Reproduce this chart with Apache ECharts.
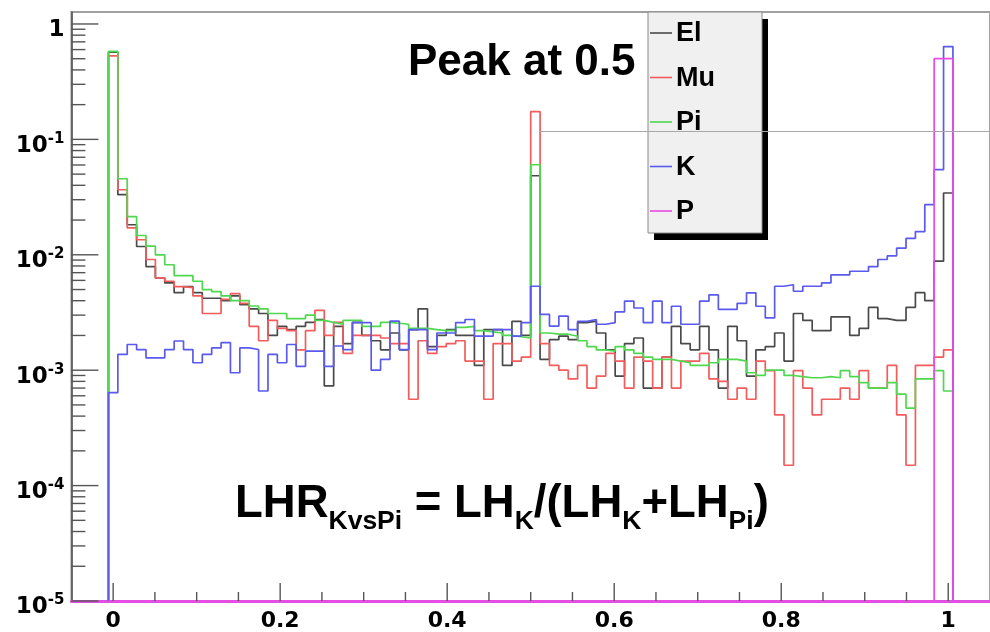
<!DOCTYPE html>
<html><head><meta charset="utf-8">
<script src="https://cdn.jsdelivr.net/npm/echarts@6/dist/echarts.min.js"></script>
<style>html,body{margin:0;padding:0;background:#fff}#c{width:990px;height:632px}</style>
</head><body><div id="c"></div>
<script>
// ---------- data ----------
const seriesNames = ['El', 'Mu', 'Pi', 'K', 'P'];
const seriesColors = ['#4a4a4a', '#f25c5c', '#4fd84f', '#5a5aee', '#e64ce6'];
// histogram: 90 bins centred on k/89, k = 0..89
const binCount = 90;
const binLow = -0.5 / 89;
const binWidth = 1 / 89;

const El = [0.57,0.0332,0.0182,0.0118,0.0079,0.0063,0.0057,0.0047,0.0053,0.0047,
0.0042,0.0042,0.0040,0.0044,0.0037,0.0034,0.0031,0.0020,0.0024,0.00225,
0.0024,0.0026,0.00275,0.00073,0.0024,0.0017,0.0026,0.0020,0.0018,0.0015,
0.0021,0.0015,0.00225,0.0034,0.0016,0.0020,0.00225,0.0020,0.0020,0.0011,
0.00225,0.00225,0.0011,0.00265,0.0020,0.0484,0.00124,0.00184,0.00197,0.00184,
0.00258,0.00266,0.0021,0.0015,0.00089,0.0017,0.0019,0.0007,0.0007,0.0013,
0.0024,0.0017,0.0015,0.0024,0.0015,0.0007,0.0024,0.0018,0.00089,0.0015,
0.0016,0.0021,0.0012,0.0031,0.0027,0.0022,0.0022,0.0029,0.0029,0.0020,
0.0023,0.0035,0.0028,0.0027,0.0027,0.0035,0.0047,0.0040,0.0088,0.0343];

const Mu = [0.53,0.0366,0.0171,0.0135,0.0091,0.0063,0.0059,0.0053,0.0052,0.0044,
0.0031,0.0031,0.0041,0.0046,0.0038,0.0024,0.0018,0.0027,0.0023,0.0022,
0.0015,0.0022,0.0033,0.0020,0.0026,0.0014,0.0020,0.0020,0.0020,0.0019,
0.0017,0.0017,0.00056,0.0018,0.0014,0.0016,0.0017,0.0018,0.0012,0.0012,
0.00056,0.0017,0.0017,0.0012,0.0013,0.174,0.0017,0.0011,0.0010,0.00084,
0.0011,0.0007,0.00089,0.0014,0.0012,0.0007,0.0013,0.0012,0.0007,0.0013,
0.0007,0.0012,0.0012,0.0014,0.00084,0.0008,0.00056,0.0007,0.00056,0.0012,
0.00099,0.00041,0.00015,0.00099,0.0007,0.00041,0.00056,0.00056,0.0007,0.00056,
0.00099,0.0007,0.0007,0.0011,0.00041,0.00015,0.0011,0.0011,0.0013,0.0015];

const Pi = [0.58,0.0456,0.0214,0.0147,0.0119,0.0100,0.0082,0.0066,0.0066,0.0059,
0.0050,0.0048,0.0044,0.0040,0.0040,0.0036,0.0034,0.0031,0.0031,0.0028,
0.0028,0.0030,0.0027,0.0026,0.0025,0.0027,0.0027,0.0024,0.0024,0.0026,
0.00255,0.0025,0.0023,0.0023,0.00225,0.0022,0.0022,0.00235,0.0024,0.0022,
0.00215,0.0021,0.0020,0.00195,0.0019,0.0603,0.0021,0.00205,0.00205,0.00197,
0.0018,0.0016,0.0015,0.00146,0.0016,0.0015,0.0014,0.0013,0.00124,0.00124,
0.0012,0.00116,0.0011,0.0011,0.00116,0.00124,0.00124,0.0012,0.00095,0.0009,
0.0010,0.0010,0.0009,0.00088,0.00086,0.00086,0.00088,0.00086,0.00099,0.00088,
0.00078,0.0007,0.0007,0.00078,0.00062,0.00047,0.00084,0.00084,0.00099,0.00066];

const K = [0.00064,0.00137,0.00167,0.00151,0.00128,0.00128,0.00151,0.00179,0.00151,0.00116,
0.00137,0.00156,0.00173,0.00095,0.00156,0.00151,0.00066,0.00137,0.00116,0.00167,
0.00108,0.00146,0.00146,0.00108,0.00162,0.00151,0.00258,0.00258,0.0010,0.00124,
0.00266,0.00151,0.00225,0.00225,0.00151,0.0021,0.0021,0.00258,0.00275,0.00197,
0.00197,0.00225,0.00225,0.00197,0.00258,0.00534,0.00304,0.00241,0.00294,0.00225,
0.00265,0.00275,0.0025,0.00258,0.0032,0.00396,0.00346,0.00258,0.00396,0.00258,
0.00358,0.0025,0.0025,0.00396,0.0045,0.00336,0.00336,0.0038,0.00468,0.00358,
0.00284,0.00534,0.0055,0.00483,0.00534,0.00534,0.0057,0.0067,0.0067,0.0072,
0.0072,0.0079,0.0091,0.0098,0.0114,0.0139,0.0159,0.0272,0.0546,0.637];

const P = [0,0,0,0,0,0,0,0,0,0, 0,0,0,0,0,0,0,0,0,0, 0,0,0,0,0,0,0,0,0,0,
0,0,0,0,0,0,0,0,0,0, 0,0,0,0,0,0,0,0,0,0, 0,0,0,0,0,0,0,0,0,0,
0,0,0,0,0,0,0,0,0,0, 0,0,0,0,0,0,0,0,0,0, 0,0,0,0,0,0,0,0,0.5,0.5];

const xTickLabels = [0, 0.2, 0.4, 0.6, 0.8, 1];
const xMinorTicks = [0.05,0.1,0.15,0.25,0.3,0.35,0.45,0.5,0.55,0.65,0.7,0.75,0.85,0.9,0.95];
const yMajorTicks = [1e-5, 1e-4, 1e-3, 1e-2, 1e-1, 1];
const yMinorTicks = [2e-5,3e-5,4e-5,5e-5,6e-5,7e-5,8e-5,9e-5,
  2e-4,3e-4,4e-4,5e-4,6e-4,7e-4,8e-4,9e-4,
  2e-3,3e-3,4e-3,5e-3,6e-3,7e-3,8e-3,9e-3,
  2e-2,3e-2,4e-2,5e-2,6e-2,7e-2,8e-2,9e-2,
  2e-1,3e-1,4e-1,5e-1,6e-1,7e-1,8e-1,9e-1];
const peakNote = 'Peak at 0.5';
// formula pieces: [text, isSubscript]
const formulaParts = [['LHR', 0], ['KvsPi', 1], [' = LH', 0], ['K', 1], ['/(LH', 0], ['K', 1], ['+LH', 0], ['Pi', 1], [')', 0]];
const refLineY = 0.117, refLineX0 = 0.5112;

const X_MIN = -0.05, X_MAX = 1.05, Y_MIN = 1e-5, Y_MAX = 1.27;

// ---------- build ----------
const allData = [El, Mu, Pi, K, P];
function histPoints(vals) {
  const pts = [[binLow, Y_MIN]];
  for (let k = 0; k < binCount; k++) {
    pts.push([binLow + k * binWidth, Math.max(vals[k], Y_MIN)]);
  }
  pts.push([binLow + binCount * binWidth, Y_MIN]);
  return pts;
}

const histSeries = seriesNames.map((n, i) => ({
  name: n, type: 'line', step: 'end', data: histPoints(allData[i]),
  showSymbol: false, symbol: 'none', clip: false, silent: true,
  lineStyle: { color: seriesColors[i], width: 1.7 }, z: 3 + i
}));

function tickRender(dir) {
  return function (params, api) {
    const p = api.coord([api.value(0), api.value(1)]);
    const len = api.value(2);
    const shape = dir === 'y'
      ? { x1: p[0], y1: p[1], x2: p[0] + len, y2: p[1] }
      : { x1: p[0], y1: p[1], x2: p[0], y2: p[1] - len };
    return { type: 'line', shape, style: { stroke: '#555', lineWidth: 1.4 } };
  };
}
const yTickData = yMajorTicks.map(v => [X_MIN, v, 27]).concat(yMinorTicks.map(v => [X_MIN, v, 14]));
const xTickData = xTickLabels.map(v => [v, Y_MIN, 18]).concat(xMinorTicks.map(v => [v, Y_MIN, 9]));

const F = "'Liberation Sans', Arial, Helvetica, sans-serif";
const FL = "'DejaVu Sans', sans-serif";

const legendTop = 12, legendLeft = 648, legendW = 114, legendH = 221;
const legendGraphics = [
  { type: 'rect', z: 50, shape: { x: legendLeft + 6, y: legendTop + 7, width: legendW, height: legendH }, style: { fill: '#000' } },
  { type: 'rect', z: 51, shape: { x: legendLeft, y: legendTop, width: legendW, height: legendH }, style: { fill: '#f0f0f0', stroke: '#8a8a8a', lineWidth: 1 } }
];
seriesNames.forEach((n, i) => {
  const cy = 33 + i * 44.5;
  legendGraphics.push({ type: 'line', z: 52, shape: { x1: 650, y1: cy, x2: 672, y2: cy }, style: { stroke: seriesColors[i], lineWidth: 1.6 } });
  legendGraphics.push({ type: 'text', z: 52, x: 676, y: cy + 1, style: { text: n, fill: '#000', font: "bold 27px " + F, verticalAlign: 'middle', align: 'left' } });
});

// formula laid out piece by piece (main baseline ~520, subscript baseline ~531)
const measureCtx = document.createElement('canvas').getContext('2d');
const mainFont = 'bold 45.5px ' + F, subFont = 'bold 26.5px ' + F;
const formulaGraphics = [];
let fx = 235;
formulaParts.forEach(([t, sub]) => {
  const font = sub ? subFont : mainFont;
  measureCtx.font = font;
  const w = measureCtx.measureText(t).width;
  formulaGraphics.push({ type: 'text', z: 40, x: fx, y: sub ? 521.5 : 504.5,
    style: { text: t, fill: '#000', font: font, verticalAlign: 'middle', align: 'left' } });
  fx += w;
});

const option = {
  animation: false,
  backgroundColor: '#fff',
  grid: { left: 71.4, right: -2.9, top: 12, bottom: 30, show: true, borderColor: '#a0a0a0', borderWidth: 2, containLabel: false },
  xAxis: {
    type: 'value', min: X_MIN, max: X_MAX,
    axisLine: { show: true, onZero: false, lineStyle: { color: '#e050e0', width: 3 } },
    axisTick: { show: false }, splitLine: { show: false }, minorTick: { show: false },
    axisLabel: { customValues: xTickLabels, margin: 9, color: '#000', fontFamily: FL, fontWeight: 'bold', fontSize: 22,
      formatter: v => String(v) }
  },
  yAxis: {
    type: 'log', logBase: 10, min: Y_MIN, max: Y_MAX,
    axisLine: { show: true, onZero: false, lineStyle: { color: '#555', width: 1.6 } },
    axisTick: { show: false }, splitLine: { show: false },
    axisLabel: {
      margin: 7,
      padding: [10, 0, 0, 0],
      formatter: v => {
        const e = Math.log10(v); const r = Math.round(e);
        if (Math.abs(e - r) > 0.01) return '';
        return r === 0 ? '{b|1}' : '{b|10}{s|' + r + '}';
      },
      rich: {
        b: { fontFamily: FL, fontWeight: 'bold', fontSize: 23, color: '#000', lineHeight: 26, verticalAlign: 'bottom' },
        s: { fontFamily: FL, fontWeight: 'bold', fontSize: 15, color: '#000', lineHeight: 15, verticalAlign: 'top' }
      }
    }
  },
  graphic: legendGraphics.concat(formulaGraphics, [
    { type: 'text', z: 40, x: 408, y: 63, style: { text: peakNote, fill: '#000', font: "bold 44px " + F, verticalAlign: 'middle', align: 'left' } }
  ]),
  series: histSeries.concat([
    { type: 'custom', name: 'yticks', renderItem: tickRender('y'), data: yTickData, clip: false, silent: true, z: 10 },
    { type: 'custom', name: 'xticks', renderItem: tickRender('x'), data: xTickData, clip: false, silent: true, z: 10 },
    { type: 'line', name: 'ref', data: [[refLineX0, refLineY], [X_MAX, refLineY]], showSymbol: false, symbol: 'none',
      lineStyle: { color: '#a8a8a8', width: 1 }, clip: false, silent: true, z: 60 }
  ])
};

const chart = echarts.init(document.getElementById('c'), null, { renderer: 'canvas' });
chart.setOption(option);
</script>
</body></html>
